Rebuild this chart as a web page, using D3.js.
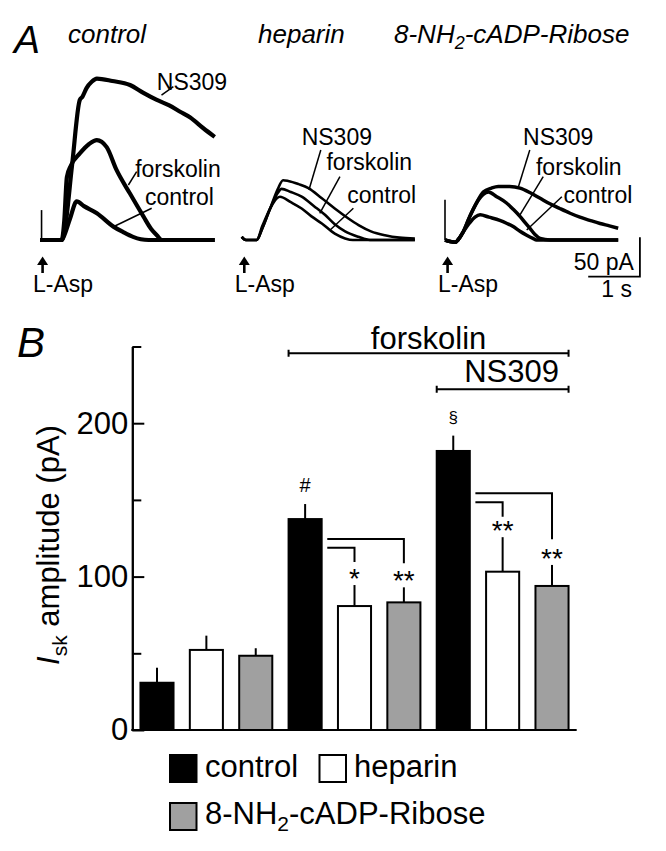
<!DOCTYPE html>
<html><head><meta charset="utf-8">
<script src="https://cdn.jsdelivr.net/npm/d3@7"></script>
<style>body{margin:0;background:#fff}text{font-family:Arial,"Liberation Sans",sans-serif;fill:#000}</style>
</head><body><svg id="c" width="666" height="851"></svg>
<script>
// ---------------- DATA ----------------
// Panel A: example traces, [time (s), current (pA)]
const panelTitles = ["control", "heparin", "8-NH2-cADP-Ribose"];
const ctrlNS309 = [[0,0],[0.42,0],[0.47,10],[0.62,95],[0.77,178],[0.82,182],[0.9,193],[1.0,201],[1.1,205],[1.4,202],[1.74,197],[2.0,187],[2.26,178],[2.5,171],[2.71,163],[2.9,156],[3.16,142],[3.38,131]];
const ctrlFsk   = [[0,0],[0.42,0],[0.47,25],[0.52,80],[0.6,95],[0.77,110],[0.95,122],[1.1,127],[1.29,118],[1.48,89],[1.74,59],[2.0,30],[2.15,14],[2.26,6],[2.36,0],[3.38,0]];
const ctrlCtrl  = [[0,0],[0.42,0],[0.45,3],[0.58,27],[0.71,49],[0.85,43],[1.1,34],[1.42,17],[1.61,10],[1.8,4],[1.95,1],[2.1,0],[3.38,0]];
const hepNS309  = [[0,4],[0.08,0],[0.29,0],[0.4,15],[0.55,40],[0.7,65],[0.8,76],[0.9,75],[1.1,71],[1.29,66],[1.55,53],[1.8,40],[2.05,28],[2.26,19],[2.5,11],[2.77,6],[3.05,3],[3.35,2]];
const hepFsk    = [[0,4],[0.08,0],[0.29,0],[0.4,15],[0.55,40],[0.7,60],[0.77,65],[0.95,61],[1.16,55],[1.4,43],[1.61,32],[1.8,20],[2.0,11],[2.26,4],[2.48,0],[3.35,0]];
const hepCtrl   = [[0,4],[0.08,0],[0.29,0],[0.4,18],[0.55,40],[0.68,53],[0.74,55],[0.95,48],[1.16,40],[1.35,30],[1.55,21],[1.8,8],[2.0,2],[2.15,0],[3.35,0]];
const adpNS309  = [[0,0],[0.1,-2],[0.2,-3],[0.25,0],[0.35,10],[0.48,30],[0.6,46],[0.74,61],[0.9,66],[1.03,68],[1.25,68],[1.45,66],[1.65,60],[1.84,53],[2.03,46],[2.22,40],[2.42,34],[2.61,29],[2.8,25],[3.0,21],[3.18,18],[3.35,15]];
const adpFsk    = [[0,0],[0.1,-2],[0.2,-3],[0.25,0],[0.35,10],[0.48,30],[0.6,46],[0.74,58],[0.84,61],[1.0,55],[1.19,47],[1.32,39],[1.45,30],[1.55,22],[1.64,15],[1.74,7],[1.84,2],[2.03,0],[3.35,0]];
const adpCtrl   = [[0,0],[0.1,-2],[0.2,-3],[0.25,0],[0.35,10],[0.48,22],[0.58,29],[0.68,32],[0.85,29],[1.06,25],[1.2,21],[1.32,17],[1.45,11],[1.58,6],[1.7,2],[1.77,0],[3.35,0]];
const artifacts = [[0.03,38],[0,0],[0,51]];  // stimulus artefact per panel: [t, height pA]
// trace labels: [text, labelT, labelI, leaderFromT, leaderFromI, leaderToT, leaderToI]
const traceLabels = [
  [["NS309",2.26,190.6,2.58,195,2.35,184],["forskolin",1.84,80.4,1.87,86.8,1.71,69.9],["control",2.03,44.5,2.16,40.3,1.42,16.9]],
  [["NS309",1.16,120.7,1.53,114.4,1.30,63.5],["forskolin",1.64,88.9,1.90,80.4,1.51,33.9],["control",2.04,46.6,2.16,40.3,1.71,12.7]],
  [["NS309",1.51,120.7,1.64,114.4,1.42,67.7],["forskolin",1.76,82.6,1.90,80.4,1.45,31.8],["control",2.29,46.6,2.26,55,1.58,12.7]]
];
const scaleBarSec = 1, scaleBarPA = 50;

// Panel B: bar chart
const barLabels = ["control","heparin","8-NH2-cADP-Ribose","control+Fsk","heparin+Fsk","8-NH2+Fsk","control+Fsk+NS309","heparin+Fsk+NS309","8-NH2+Fsk+NS309"];
const barMeans  = [30.8, 52.2, 48.4, 137.5, 80.8, 83.2, 181.9, 103.2, 93.9];
const barSEM    = [9.8, 9.3, 4.9, 9.8, 13.7, 9.8, 10.0, 22.5, 13.7];
const barGroup  = [0,1,2,0,1,2,0,1,2];
const yTicksMajor = [0,100,200];
const yTicksMinor = [50,150,250];
const sigMarks = [[3,"#"],[4,"*"],[5,"**"],[6,"§"],[7,"**"],[8,"**"]];
// brackets: [fromBar, toBar, level (pA), drop-to (pA)]
const brackets = [[3,5,124.5,108.7],[3,4,118.8,109.5],[6,8,154.3,124.3],[6,7,148.4,139]];
const legendItems = ["control","heparin","8-NH2-cADP-Ribose"];

// ---------------- DRAW ----------------
const svg = d3.select("#c");
svg.append("rect").attr("width",666).attr("height",851).attr("fill","#fff");
const FILL = ["#000","#fff","#a0a0a0"];

function subText(sel, str, subSize){
  const parts = str.split("NH2");
  if(parts.length===1){ sel.text(str); return; }
  sel.append("tspan").text(parts[0]+"NH");
  sel.append("tspan").attr("font-size",subSize).attr("dy",subSize*0.35).text("2");
  sel.append("tspan").attr("dy",-subSize*0.35).text(parts[1]);
}

// Panel A
svg.append("text").attr("x",14).attr("y",53).attr("font-size",39).attr("font-style","italic").text("A");
const titleX = [68,258,394];
panelTitles.forEach((t,i)=>{
  const tx = svg.append("text").attr("x",titleX[i]).attr("y",43).attr("font-size",26).attr("font-style","italic");
  subText(tx,t,18);
});

const panelX0 = [40,241.7,445];
const pxPerSec = 51.7, pxPerPA = 0.787, baseY = 240;
const traces = [[ctrlNS309,ctrlFsk,ctrlCtrl],[hepNS309,hepFsk,hepCtrl],[adpNS309,adpFsk,adpCtrl]];
const traceW = [4.2,2.6,3.5];
traces.forEach((set,p)=>{
  const xs = d3.scaleLinear().domain([0,1]).range([panelX0[p],panelX0[p]+pxPerSec]);
  const ys = d3.scaleLinear().domain([0,1]).range([baseY,baseY-pxPerPA]);
  const line = d3.line().x(d=>xs(d[0])).y(d=>ys(d[1])).curve(d3.curveMonotoneX);
  const g = svg.append("g");
  set.forEach(tr=>{
    g.append("path").attr("d",line(tr)).attr("fill","none").attr("stroke","#000")
      .attr("stroke-width",traceW[p]).attr("stroke-linejoin","round");
  });
  const a = artifacts[p];
  g.append("line").attr("x1",xs(a[0])).attr("x2",xs(a[0])).attr("y1",ys(0)).attr("y2",ys(a[1]))
    .attr("stroke","#000").attr("stroke-width",1.6);
  traceLabels[p].forEach(l=>{
    g.append("text").attr("x",xs(l[1])).attr("y",ys(l[2])).attr("font-size",23).text(l[0]);
    g.append("line").attr("x1",xs(l[3])).attr("y1",ys(l[4])).attr("x2",xs(l[5])).attr("y2",ys(l[6]))
      .attr("stroke","#000").attr("stroke-width",1.5);
  });
  // L-Asp arrow
  const ax = xs(0.05);
  g.append("line").attr("x1",ax).attr("x2",ax).attr("y1",262).attr("y2",273).attr("stroke","#000").attr("stroke-width",2.6);
  g.append("path").attr("d",`M${ax-5.5},265 L${ax},256.5 L${ax+5.5},265 Z`).attr("fill","#000");
  g.append("text").attr("x",xs(0)-7).attr("y",292).attr("font-size",23).text("L-Asp");
  if(p===2){
    const cx = xs(3.77), cy = ys(-46.6);
    g.append("path").attr("d",`M${cx-pxPerSec*scaleBarSec},${cy} L${cx},${cy} L${cx},${cy-pxPerPA*scaleBarPA}`)
      .attr("fill","none").attr("stroke","#000").attr("stroke-width",1.8);
    g.append("text").attr("x",cx-6).attr("y",270).attr("text-anchor","end").attr("font-size",23).text(scaleBarPA+" pA");
    g.append("text").attr("x",cx-8).attr("y",297).attr("text-anchor","end").attr("font-size",23).text(scaleBarSec+" s");
  }
});

// Panel B
svg.append("text").attr("x",17).attr("y",357).attr("font-size",42).attr("font-style","italic").text("B");
const y = d3.scaleLinear().domain([0,250]).range([730,346.5]);
const x = d3.scaleBand().domain(d3.range(barMeans.length)).range([132.3,576.7]).paddingInner(0.33).paddingOuter(0.165);

const axMaj = d3.axisLeft(y).tickValues(yTicksMajor).tickSizeInner(-12).tickSizeOuter(0).tickPadding(4).tickFormat(d3.format("d"));
const axMin = d3.axisLeft(y).tickValues(yTicksMinor).tickSizeInner(-9).tickSizeOuter(0).tickFormat("");
[axMaj,axMin].forEach(ax=>{
  const g = svg.append("g").attr("transform","translate(132.3,0)").call(ax);
  g.selectAll("path,line").attr("stroke","#000").attr("stroke-width",2);
  g.selectAll("text").attr("font-size",31).attr("font-family",'Arial,"Liberation Sans",sans-serif').attr("fill","#000");
});
const xAx = d3.axisBottom(x).tickSize(0).tickFormat("");
const gx = svg.append("g").attr("transform","translate(0,730)").call(xAx);
gx.select("path").attr("stroke","#000").attr("stroke-width",2).attr("d","M131.3,0H576.7");

const yl = svg.append("text").attr("transform","translate(59,545) rotate(-90)").attr("text-anchor","middle").attr("font-size",31);
yl.append("tspan").attr("font-style","italic").text("I");
yl.append("tspan").attr("font-size",21).attr("dy",8).text("sk");
yl.append("tspan").attr("dy",-8).text(" amplitude (pA)");

const bw = x.bandwidth();
barMeans.forEach((m,i)=>{
  const cx = x(i)+bw/2;
  svg.append("line").attr("x1",cx).attr("x2",cx).attr("y1",y(m)).attr("y2",y(m+barSEM[i])).attr("stroke","#000").attr("stroke-width",2);
  svg.append("rect").attr("x",x(i)).attr("y",y(m)).attr("width",bw).attr("height",y(0)-y(m))
    .attr("fill",FILL[barGroup[i]]).attr("stroke","#000").attr("stroke-width",2);
});

sigMarks.forEach(([i,s])=>{
  const cx = x(i)+bw/2;
  const top = y(barMeans[i]+barSEM[i]);
  if(s.startsWith("*")){
    svg.append("text").attr("x",cx).attr("y",top-13+16).attr("text-anchor","middle").attr("font-size",28).text(s);
  } else if(s==="#"){
    svg.append("text").attr("x",cx).attr("y",top-19+7).attr("text-anchor","middle").attr("font-size",20).text(s);
  } else {
    svg.append("text").attr("x",cx).attr("y",top-18+5).attr("text-anchor","middle").attr("font-size",17).text(s);
  }
});

brackets.forEach(([a,b,lvl,drop])=>{
  const x1 = x(a)+bw+5.6, x2 = x(b)+bw/2;
  svg.append("path").attr("d",`M${x1},${y(lvl)} H${x2} V${y(drop)}`).attr("fill","none").attr("stroke","#000").attr("stroke-width",2);
});

function treatLine(a,b,yy,label,anchor,lx,ly){
  const x1 = x(a), x2 = x(b)+bw;
  svg.append("path").attr("d",`M${x1},${yy} H${x2} M${x1},${yy-3.5} V${yy+3.5} M${x2},${yy-3.5} V${yy+3.5}`)
    .attr("fill","none").attr("stroke","#000").attr("stroke-width",2);
  svg.append("text").attr("x",lx).attr("y",ly).attr("text-anchor",anchor).attr("font-size",31).text(label);
}
treatLine(3,8,353.3,"forskolin","middle",(x(3)+x(8)+bw)/2,348.5);
treatLine(6,8,389.3,"NS309","end",559,382);

const legPos = [[170,755,205,777],[319.5,755,354,777],[170,803,205,823.5]];
legendItems.forEach((t,i)=>{
  const [sx,sy,tx,ty] = legPos[i];
  svg.append("rect").attr("x",sx).attr("y",sy).attr("width",26.5).attr("height",27)
    .attr("fill",FILL[i]).attr("stroke","#000").attr("stroke-width",2);
  const tt = svg.append("text").attr("x",tx).attr("y",ty).attr("font-size",31);
  subText(tt,t,21);
});
</script></body></html>
